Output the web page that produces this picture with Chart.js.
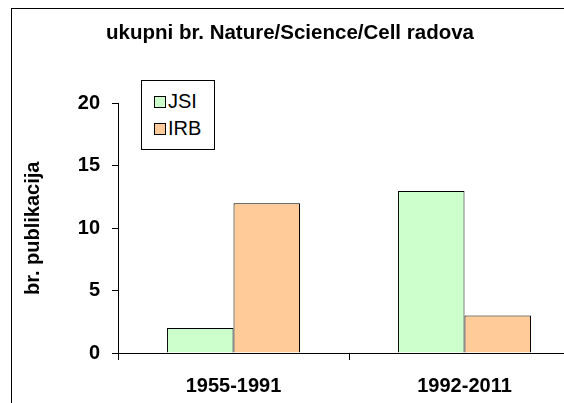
<!DOCTYPE html>
<html>
<head>
<meta charset="utf-8">
<script src="https://cdn.jsdelivr.net/npm/chart.js@4"></script>
<style>
  html, body { margin: 0; padding: 0; background: #fff; overflow: hidden; }
  #wrap { position: relative; width: 564px; height: 403px; overflow: hidden; }
  #frame { position: absolute; left: 11px; top: 8px; width: 600px; height: 500px; border: 1px solid #000; }
  #chart { position: absolute; left: 0; top: 0; }
  #legend {
    position: absolute; left: 141px; top: 80px; width: 74px; height: 70px;
    box-sizing: border-box; border: 1px solid #000; background: #fff;
    font-family: "Liberation Sans", Arial, sans-serif; font-size: 20px; color: #000;
    padding-top: 7px;
  }
  #legend .item { height: 27px; display: flex; align-items: center; padding-left: 12px; }
  #legend .box { width: 10px; height: 10px; border: 1px solid #000; margin-right: 2px; }
</style>
</head>
<body>
<div id="wrap">
  <div id="frame"></div>
  <canvas id="chart" width="580" height="403"></canvas>
  <div id="legend"></div>
</div>
<script>
const chartTitle = 'ukupni br. Nature/Science/Cell radova';
const yAxisTitle = 'br. publikacija';
const periods = ['1955-1991', '1992-2011'];
const seriesNames = ['JSI', 'IRB'];
const jsiValues = [2, 13];
const irbValues = [12, 3];
const seriesColors = ['#CCFFCC', '#FFCC99'];

const font = "'Liberation Sans', Arial, sans-serif";

// legend box inside the plot, like the original
const legendEl = document.getElementById('legend');
seriesNames.forEach((name, i) => {
  const row = document.createElement('div');
  row.className = 'item';
  row.innerHTML = '<span class="box" style="background:' + seriesColors[i] + '"></span><span>' + name + '</span>';
  legendEl.appendChild(row);
});

new Chart(document.getElementById('chart'), {
  type: 'bar',
  data: {
    labels: periods,
    datasets: [
      { label: seriesNames[0], data: jsiValues, backgroundColor: seriesColors[0], borderColor: '#000', borderWidth: 1 },
      { label: seriesNames[1], data: irbValues, backgroundColor: seriesColors[1], borderColor: '#000', borderWidth: 1 }
    ]
  },
  options: {
    responsive: false,
    animation: false,
    devicePixelRatio: 1,
    categoryPercentage: 0.576,
    barPercentage: 1,
    layout: { padding: 0 },
    plugins: {
      legend: { display: false },
      tooltip: { enabled: false },
      title: {
        display: true,
        text: chartTitle,
        color: '#000',
        font: { family: font, size: 20.5, weight: 'bold' },
        padding: { top: 21, bottom: 58 }
      }
    },
    scales: {
      x: {
        grid: { drawOnChartArea: false, color: '#000', tickLength: 7, offset: true },
        border: { color: '#000', width: 1 },
        ticks: { color: '#000', font: { family: font, size: 20, weight: 'bold' }, padding: 14 },
        afterFit: s => { s.height = 50; }
      },
      y: {
        min: 0,
        max: 20,
        ticks: { stepSize: 5, color: '#000', font: { family: font, size: 20, weight: 'bold' }, padding: 12 },
        grid: { drawOnChartArea: false, color: '#000', tickLength: 6 },
        border: { color: '#000', width: 1 },
        title: {
          display: true,
          text: yAxisTitle,
          color: '#000',
          font: { family: font, size: 20, weight: 'bold' },
          padding: { top: 21, bottom: 0 }
        },
        afterFit: s => { s.width = 118; }
      }
    }
  }
});
</script>
</body>
</html>
